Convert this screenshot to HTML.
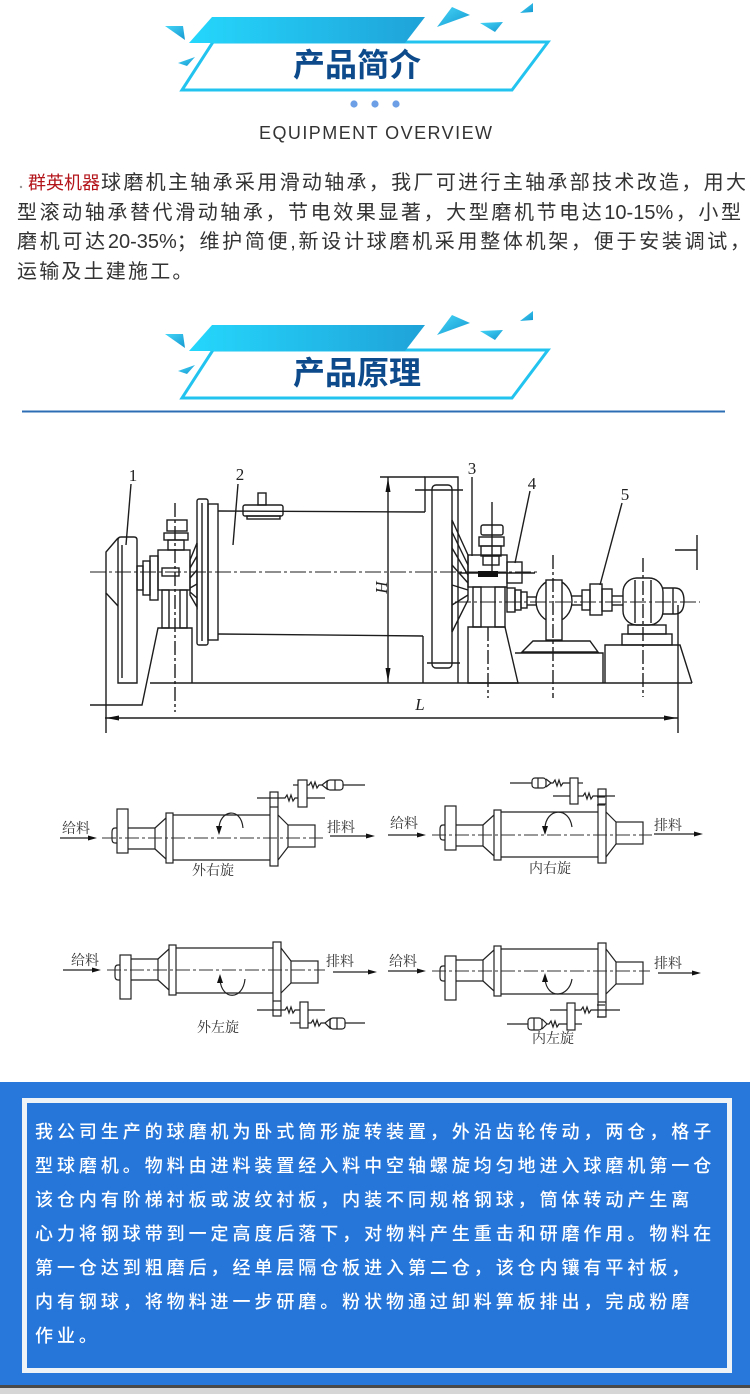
<!DOCTYPE html>
<html><head><meta charset="utf-8">
<style>
html,body{margin:0;padding:0;background:#fff;}
body{width:750px;height:1394px;position:relative;overflow:hidden;font-family:"Liberation Sans","Noto Sans CJK SC",sans-serif;}
.abs{position:absolute;left:0;top:0;}
.title{position:absolute;left:257px;width:200px;text-align:center;font-size:32px;line-height:40px;font-weight:bold;color:#0c4a8c;white-space:nowrap;}
.eo{position:absolute;left:259px;top:122px;font-size:18px;line-height:22px;letter-spacing:1.45px;color:#333;white-space:nowrap;}
.p{position:absolute;font-size:20px;line-height:30px;height:30px;color:#333;text-align:justify;text-align-last:justify;}
.blue{position:absolute;left:0;top:1082px;width:750px;height:303px;background:#2778da;}
.inner{position:absolute;left:22px;top:1098px;width:700px;height:265px;border:5px solid #eef3f8;background:#2676da;}
.bt{position:absolute;left:35px;top:1115px;font-size:18px;line-height:34px;letter-spacing:3.94px;color:#fff;font-weight:500;white-space:nowrap;}
</style></head>
<body>

<svg class="abs" width="750" height="1070" viewBox="0 0 750 1070">
<defs>
<linearGradient id="g1" x1="0" x2="1" y1="0" y2="0"><stop offset="0" stop-color="#25d7fc"/><stop offset="1" stop-color="#1fa2d8"/></linearGradient>
<linearGradient id="g2" x1="0" x2="1" y1="0" y2="1"><stop offset="0" stop-color="#45d6f8"/><stop offset="1" stop-color="#1598d0"/></linearGradient>
<g id="ban">
<polygon points="213,42 548,42 512,90 182,90" fill="none" stroke="#22c4ef" stroke-width="3"/>
<polygon points="212,17 425,17 405,43 189,43" fill="url(#g1)"/>
<polygon points="165,26 183,26 185,40" fill="url(#g2)"/>
<polygon points="178,63 195,57 187,66" fill="url(#g2)"/>
<polygon points="437,27 452,7 470,15" fill="url(#g2)"/>
<polygon points="480,23 503,22 495,32" fill="url(#g2)"/>
<polygon points="520,13 533,3 533,12" fill="url(#g2)"/>
</g>
<g id="mill" fill="none" stroke="#222" stroke-width="1.2">
<path d="M0,-10 H-2 Q-5,-10 -5,-6 V1 Q-5,5 -2,5 H0"/>
<rect x="0" y="-29" width="11" height="44"/>
<line x1="11" y1="-10" x2="38" y2="-10"/>
<line x1="11" y1="11" x2="38" y2="11"/>
<line x1="38" y1="-10" x2="38" y2="11"/>
<line x1="38" y1="-10" x2="49" y2="-20"/>
<line x1="38" y1="11" x2="49" y2="21"/>
<rect x="49" y="-25" width="7" height="50"/>
<line x1="56" y1="-23" x2="153" y2="-23"/>
<line x1="56" y1="22" x2="153" y2="22"/>
<rect x="153" y="-46" width="8" height="74"/>
<line x1="153" y1="-31" x2="161" y2="-31"/>
<line x1="161" y1="-23" x2="171" y2="-13"/>
<line x1="161" y1="22" x2="171" y2="9"/>
<rect x="171" y="-13" width="27" height="22"/>
</g>
</defs>

<use href="#ban"/>
<use href="#ban" y="308"/>
<circle cx="354" cy="104" r="3.6" fill="#6c9fe6"/>
<circle cx="375" cy="104" r="3.6" fill="#6c9fe6"/>
<circle cx="396" cy="104" r="3.6" fill="#6c9fe6"/>
<line x1="22" y1="411.5" x2="725" y2="411.5" stroke="#2d6db4" stroke-width="2"/>
<circle cx="21" cy="187" r="1.2" fill="#999"/>

<!-- MAIN DRAWING -->
<g fill="none" stroke="#1d1d1d" stroke-width="1.4">
<line x1="131" y1="484" x2="126" y2="545"/>
<line x1="238" y1="484" x2="233" y2="545"/>
<line x1="472" y1="477" x2="472" y2="556"/>
<line x1="530" y1="491" x2="515" y2="563"/>
<line x1="622" y1="503" x2="600" y2="585"/>
<!-- part 1 -->
<path d="M118,683 V540 Q118,537 121,537 H134 Q137,537 137,540 V683 Z"/>
<line x1="122" y1="545" x2="122" y2="678"/>
<polyline points="118,538 106,552 106,593 118,606"/>
<line x1="106" y1="593" x2="106" y2="733"/>
<rect x="137" y="566" width="6" height="24"/>
<rect x="143" y="561" width="7" height="34"/>
<rect x="150" y="556" width="8" height="44"/>
<!-- left bearing -->
<rect x="158" y="550" width="32" height="40"/>
<rect x="162" y="590" width="7" height="38"/>
<rect x="180" y="590" width="7" height="38"/>
<rect x="162" y="568" width="17" height="8"/>
<rect x="167" y="520" width="20" height="11"/>
<rect x="164" y="533" width="24" height="7"/>
<rect x="168" y="540" width="16" height="10"/>
<polyline points="90,705 142,705 158,628 192,628 192,683"/>
<line x1="150" y1="683" x2="692" y2="683"/>
<line x1="175" y1="503" x2="175" y2="712" stroke-dasharray="14 3 3 3"/>
<!-- teeth left of flange -->
<polygon points="190,560 197,543 197,607 190,595"/>
<line x1="190" y1="568" x2="197" y2="556"/><line x1="190" y1="578" x2="197" y2="570"/><line x1="190" y1="588" x2="197" y2="584"/><line x1="190" y1="592" x2="197" y2="598"/>
<!-- flange -->
<rect x="197" y="499" width="11" height="146" rx="2"/>
<line x1="202" y1="503" x2="202" y2="641"/>
<rect x="208" y="504" width="10" height="136"/>
<!-- cylinder -->
<line x1="218" y1="511" x2="425" y2="512"/>
<line x1="218" y1="634" x2="423" y2="636"/>
<rect x="243" y="505" width="40" height="11" rx="2"/>
<rect x="258" y="493" width="8" height="12"/>
<rect x="247" y="516" width="33" height="3"/>
<line x1="90" y1="572" x2="540" y2="572" stroke-dasharray="16 3 3 3" stroke-width="1.1"/>
<!-- H dim -->
<line x1="388" y1="477" x2="388" y2="683"/>
<line x1="380" y1="477" x2="425" y2="477"/>
<!-- guard & gear -->
<polyline points="425,512 425,477 458,477 458,683"/>
<line x1="423" y1="636" x2="423" y2="683"/>
<rect x="432" y="485" width="20" height="183" rx="4"/>
<line x1="415" y1="490" x2="463" y2="490"/>
<line x1="427" y1="663" x2="460" y2="663"/>
<polygon points="452,520 468,555 468,600 452,632"/>
<line x1="452" y1="532" x2="468" y2="565"/><line x1="452" y1="548" x2="468" y2="575"/><line x1="452" y1="565" x2="468" y2="583"/><line x1="452" y1="585" x2="468" y2="590"/><line x1="452" y1="605" x2="468" y2="595"/>
<!-- right bearing -->
<rect x="468" y="555" width="39" height="32"/>
<rect x="473" y="587" width="8" height="40"/>
<rect x="495" y="587" width="10" height="40"/>
<rect x="481" y="525" width="22" height="10" rx="2"/>
<rect x="479" y="537" width="25" height="9"/>
<rect x="481" y="546" width="20" height="10"/>
<rect x="483" y="556" width="16" height="9"/>
<line x1="492" y1="502" x2="492" y2="573"/>
<polygon points="468,627 505,627 518,683 468,683"/>
<line x1="488" y1="627" x2="488" y2="698" stroke-dasharray="14 3 3 3"/>
<rect x="507" y="562" width="15" height="21"/>
<rect x="507" y="588" width="8" height="24"/>
<rect x="515" y="590" width="6" height="20"/>
<rect x="521" y="592" width="6" height="16"/>
<line x1="527" y1="597" x2="537" y2="597"/><line x1="527" y1="605" x2="537" y2="605"/>
<line x1="460" y1="573" x2="535" y2="573"/>
<!-- reducer -->
<ellipse cx="554" cy="601" rx="18" ry="21"/>
<rect x="546" y="580" width="16" height="60" fill="#fff"/>
<polygon points="522,652 533,641 590,641 598,652"/>
<polyline points="515,653 603,653 603,683"/>
<line x1="553" y1="555" x2="553" y2="698" stroke-dasharray="14 3 3 3"/>
<!-- coupling 5 -->
<line x1="572" y1="596" x2="582" y2="596"/><line x1="572" y1="605" x2="582" y2="605"/>
<rect x="582" y="590" width="8" height="20"/>
<rect x="590" y="584" width="12" height="31"/>
<rect x="602" y="589" width="10" height="22"/>
<line x1="612" y1="596" x2="623" y2="596"/><line x1="612" y1="605" x2="623" y2="605"/>
<!-- motor -->
<rect x="623" y="578" width="40" height="47" rx="14"/>
<line x1="635" y1="580" x2="635" y2="623"/><line x1="651" y1="580" x2="651" y2="623"/>
<path d="M663,588 H675 Q684,588 684,601 Q684,614 675,614 H663"/>
<line x1="673" y1="588" x2="673" y2="614"/>
<rect x="628" y="625" width="38" height="9"/>
<rect x="622" y="634" width="50" height="11"/>
<polyline points="605,683 605,645 680,645 692,683"/>
<line x1="643" y1="558" x2="643" y2="697" stroke-dasharray="14 3 3 3"/>
<line x1="455" y1="602" x2="700" y2="602" stroke-dasharray="16 3 3 3" stroke-width="1.1"/>
<line x1="697" y1="535" x2="697" y2="570"/>
<line x1="675" y1="550" x2="697" y2="550"/>
<!-- L dim -->
<line x1="105" y1="718" x2="678" y2="718"/>
<line x1="678" y1="605" x2="678" y2="733"/>
</g>
<g fill="#111">
<rect x="478" y="571" width="20" height="6"/>
<polygon points="388,478 385.5,492 390.5,492"/>
<polygon points="388,682 385.5,668 390.5,668"/>
<polygon points="106,718 119,715.5 119,720.5"/>
<polygon points="677,718 664,715.5 664,720.5"/>
</g>
<g font-family="Liberation Serif, serif" font-size="17" fill="#222" text-anchor="middle">
<text x="133" y="481">1</text>
<text x="240" y="480">2</text>
<text x="472" y="474">3</text>
<text x="532" y="489">4</text>
<text x="625" y="500">5</text>
<text x="420" y="710" font-style="italic">L</text>
<text x="0" y="0" font-style="italic" transform="translate(376,587) rotate(90)">H</text>
</g>

<!-- SMALL DIAGRAMS -->
<use href="#mill" transform="translate(117,838)"/>
<use href="#mill" transform="translate(445,835)"/>
<use href="#mill" transform="translate(120,970) scale(1,-1)"/>
<use href="#mill" transform="translate(445,971) scale(1,-1)"/>

<g fill="none" stroke="#333" stroke-width="1" stroke-dasharray="14 3 3 3">
<line x1="102" y1="838" x2="325" y2="838"/>
<line x1="432" y1="835" x2="652" y2="835"/>
<line x1="107" y1="970" x2="325" y2="970"/>
<line x1="432" y1="971" x2="650" y2="971"/>
</g>

<g fill="none" stroke="#222" stroke-width="1.2">
<!-- feed/discharge arrows -->
<line x1="60" y1="838" x2="90" y2="838"/>
<line x1="330" y1="836" x2="368" y2="836"/>
<line x1="388" y1="835" x2="420" y2="835"/>
<line x1="654" y1="834" x2="697" y2="834"/>
<line x1="63" y1="970" x2="95" y2="970"/>
<line x1="333" y1="972" x2="370" y2="972"/>
<line x1="388" y1="971" x2="420" y2="971"/>
<line x1="658" y1="973" x2="695" y2="973"/>
<!-- rotation arcs -->
<path d="M219,829 C219,810 241,806 243,828"/>
<path d="M545,828 C546,808 569,806 572,827"/>
<path d="M220,980 C222,1001 243,1000 245,979"/>
<path d="M545,979 C547,1000 569,998 572,979"/>
<!-- D1 pinion -->
<line x1="257" y1="798" x2="283" y2="798"/>
<path d="M283,798 H285 l2,-3 l2,6 l2,-6 l2,6 l2,-3 H298"/>
<line x1="298" y1="798" x2="325" y2="798"/>
<rect x="298" y="780" width="9" height="27" fill="#fff"/>
<line x1="293" y1="785" x2="298" y2="785"/>
<path d="M307,785 H309 l2,-3 l2,6 l2,-6 l2,6 l2,-3 H322"/>
<path d="M322,785 L327,781 V789 Z"/>
<rect x="327" y="780" width="16" height="10" rx="3"/>
<line x1="335" y1="780" x2="335" y2="790"/>
<line x1="343" y1="785" x2="365" y2="785"/>
<!-- D2 pinion -->
<line x1="510" y1="783" x2="532" y2="783"/>
<rect x="532" y="778" width="14" height="10" rx="3"/>
<line x1="538" y1="778" x2="538" y2="788"/>
<path d="M546,779 L551,783 L546,787"/>
<path d="M551,783 H553 l2,-3 l2,6 l2,-6 l2,6 l2,-3 H570"/>
<line x1="578" y1="783" x2="583" y2="783"/>
<line x1="553" y1="796" x2="570" y2="796"/>
<rect x="570" y="778" width="8" height="26" fill="#fff"/>
<path d="M578,796 H583 l2,-3 l2,6 l2,-6 l2,6 l2,-3 H597"/>
<line x1="597" y1="796" x2="615" y2="796"/>
<line x1="597" y1="797" x2="605" y2="797"/>
<line x1="597" y1="805" x2="605" y2="805"/>
<!-- D3 pinion -->
<line x1="257" y1="1010" x2="283" y2="1010"/>
<path d="M283,1010 H285 l2,-3 l2,6 l2,-6 l2,6 l2,-3 H300"/>
<line x1="300" y1="1010" x2="325" y2="1010"/>
<rect x="300" y="1002" width="8" height="26" fill="#fff"/>
<line x1="290" y1="1023" x2="300" y2="1023"/>
<path d="M308,1023 H311 l2,-3 l2,6 l2,-6 l2,6 l2,-3 H325"/>
<path d="M325,1023 L330,1019 V1028 Z"/>
<rect x="330" y="1018" width="15" height="11" rx="3"/>
<line x1="337" y1="1018" x2="337" y2="1029"/>
<line x1="345" y1="1023" x2="365" y2="1023"/>
<!-- D4 pinion -->
<line x1="550" y1="1010" x2="567" y2="1010"/>
<rect x="567" y="1003" width="8" height="27" fill="#fff"/>
<path d="M575,1010 H581 l2,-3 l2,6 l2,-6 l2,6 l2,-3 H597"/>
<line x1="597" y1="1010" x2="620" y2="1010"/>
<line x1="597" y1="1005" x2="605" y2="1005"/>
<line x1="597" y1="1017" x2="605" y2="1017"/>
<line x1="507" y1="1024" x2="528" y2="1024"/>
<rect x="528" y="1018" width="14" height="12" rx="3"/>
<line x1="534" y1="1018" x2="534" y2="1030"/>
<path d="M542,1019 L547,1024 L542,1029"/>
<path d="M547,1024 H549 l2,-3 l2,6 l2,-6 l2,6 l2,-3 H567"/>
<line x1="575" y1="1024" x2="582" y2="1024"/>
</g>
<g fill="#111">
<polygon points="97,838 88,835.5 88,840.5"/>
<polygon points="375,836 366,833.5 366,838.5"/>
<polygon points="426,835 417,832.5 417,837.5"/>
<polygon points="703,834 694,831.5 694,836.5"/>
<polygon points="101,970 92,967.5 92,972.5"/>
<polygon points="377,972 368,969.5 368,974.5"/>
<polygon points="426,971 417,968.5 417,973.5"/>
<polygon points="701,973 692,970.5 692,975.5"/>
<polygon points="216,826 222,826 219,835"/>
<polygon points="542,826 548,826 545,835"/>
<polygon points="217,983 223,983 220,974"/>
<polygon points="542,982 548,982 545,973"/>
</g>
<g font-family="Liberation Serif, Noto Serif CJK SC, serif" font-size="14" fill="#333" text-anchor="middle">
<text x="76" y="833">给料</text>
<text x="341" y="832">排料</text>
<text x="213" y="875">外右旋</text>
<text x="404" y="828">给料</text>
<text x="668" y="830">排料</text>
<text x="550" y="873">内右旋</text>
<text x="85" y="965">给料</text>
<text x="340" y="966">排料</text>
<text x="218" y="1032">外左旋</text>
<text x="403" y="966">给料</text>
<text x="668" y="968">排料</text>
<text x="553" y="1043">内左旋</text>
</g>
</svg>

<div class="title" style="top:45px;">产品简介</div>
<div class="eo">EQUIPMENT OVERVIEW</div>
<div class="title" style="top:353px;">产品原理</div>

<div class="p" style="left:28px;top:168px;font-size:18px;color:#b3151b;text-align:left;text-align-last:auto;white-space:nowrap;">群英机器</div>
<div class="p" style="left:101px;top:168px;width:645px;">球磨机主轴承采用滑动轴承，我厂可进行主轴承部技术改造，用大</div>
<div class="p" style="left:17px;top:198px;width:724px;">型滚动轴承替代滑动轴承，节电效果显著，大型磨机节电达10-15%，小型</div>
<div class="p" style="left:17px;top:227px;width:733px;">磨机可达20-35%；维护简便,新设计球磨机采用整体机架，便于安装调试，</div>
<div class="p" style="left:17px;top:257px;letter-spacing:2.2px;text-align:left;text-align-last:auto;white-space:nowrap;">运输及土建施工。</div>

<div class="blue"></div>
<div class="inner"></div>
<div class="bt">我公司生产的球磨机为卧式筒形旋转装置，外沿齿轮传动，两仓，格子<br>型球磨机。物料由进料装置经入料中空轴螺旋均匀地进入球磨机第一仓<br>该仓内有阶梯衬板或波纹衬板，内装不同规格钢球，筒体转动产生离<br>心力将钢球带到一定高度后落下，对物料产生重击和研磨作用。物料在<br>第一仓达到粗磨后，经单层隔仓板进入第二仓，该仓内镶有平衬板，<br>内有钢球，将物料进一步研磨。粉状物通过卸料箅板排出，完成粉磨<br>作业。</div>
<div style="position:absolute;left:0;top:1385px;width:750px;height:3px;background:#4a4a4a;"></div>
<div style="position:absolute;left:0;top:1388px;width:750px;height:6px;background:#d6d6d6;"></div>
</body></html>
